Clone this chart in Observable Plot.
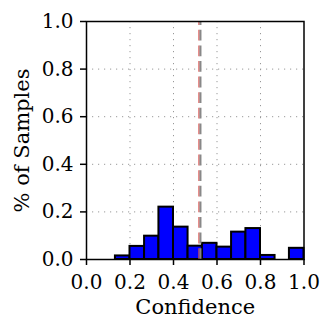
<!DOCTYPE html>
<html><head><meta charset="utf-8">
<script src="https://cdn.jsdelivr.net/npm/d3@7"></script>
<script src="https://cdn.jsdelivr.net/npm/@observablehq/plot@0.6"></script>
<style>body{margin:0;background:#fff} svg{display:block}</style>
</head><body><div id="chart"></div>
<script>
const binEdges = [0.000, 0.067, 0.133, 0.200, 0.267, 0.333, 0.400, 0.467, 0.533, 0.600, 0.667, 0.733, 0.800, 0.867, 0.933, 1.000];
const shares = [0, 0, 0.015, 0.055, 0.098, 0.220, 0.136, 0.056, 0.068, 0.052, 0.115, 0.130, 0.017, 0, 0.047];
const xTicks = [0.0, 0.2, 0.4, 0.6, 0.8, 1.0];
const yTicks = [0.0, 0.2, 0.4, 0.6, 0.8, 1.0];
const redLine = [0.517];
const grayLine = [0.524];
const xLabel = "Confidence";
const yLabel = "% of Samples";

const bars = shares.map((v, i) => ({x1: binEdges[i], x2: binEdges[i + 1], y: v})).filter(d => d.y > 0);

const chart = Plot.plot({
  width: 333, height: 333,
  marginLeft: 86, marginRight: 29.5, marginTop: 21, marginBottom: 74,
  style: {fontFamily: "'DejaVu Serif', serif", fontSize: "20px", background: "white", color: "black"},
  x: {domain: [0, 1]},
  y: {domain: [0, 1]},
  marks: [
    Plot.gridX(xTicks.slice(1, -1), {stroke: "#999", strokeOpacity: 1, strokeWidth: 1, strokeDasharray: "1.2,4.8"}),
    Plot.gridY(yTicks.slice(1, -1), {stroke: "#999", strokeOpacity: 1, strokeWidth: 1, strokeDasharray: "1.2,4.8"}),
    Plot.rectY(bars, {x1: "x1", x2: "x2", y1: 0, y2: "y", fill: "#0000ff", stroke: "black", strokeWidth: 2}),
    Plot.ruleX(redLine, {y1: 0, y2: 1, stroke: "#d9534f", strokeWidth: 1.2, strokeDasharray: "10.8,4.8"}),
    Plot.ruleX(grayLine, {y1: 0, y2: 1, stroke: "#888", strokeWidth: 2, strokeDasharray: "10.8,4.8"}),
    Plot.frame({stroke: "black", strokeWidth: 1.5}),
    Plot.axisX(xTicks, {tickSize: 6, tickPadding: 9, tickFormat: d3.format(".1f"), label: null, strokeWidth: 1.5}),
    Plot.axisY(yTicks, {tickSize: 6, tickPadding: 7, tickFormat: d3.format(".1f"), label: null, strokeWidth: 1.5}),
    Plot.text([xLabel], {frameAnchor: "bottom", dy: 54, fontSize: 21, lineAnchor: "bottom", text: d => d}),
    Plot.text([yLabel], {frameAnchor: "left", dx: -58, rotate: -90, fontSize: 21, textAnchor: "middle", lineAnchor: "bottom", text: d => d})
  ]
});
document.getElementById("chart").appendChild(chart);
</script>
</body></html>
